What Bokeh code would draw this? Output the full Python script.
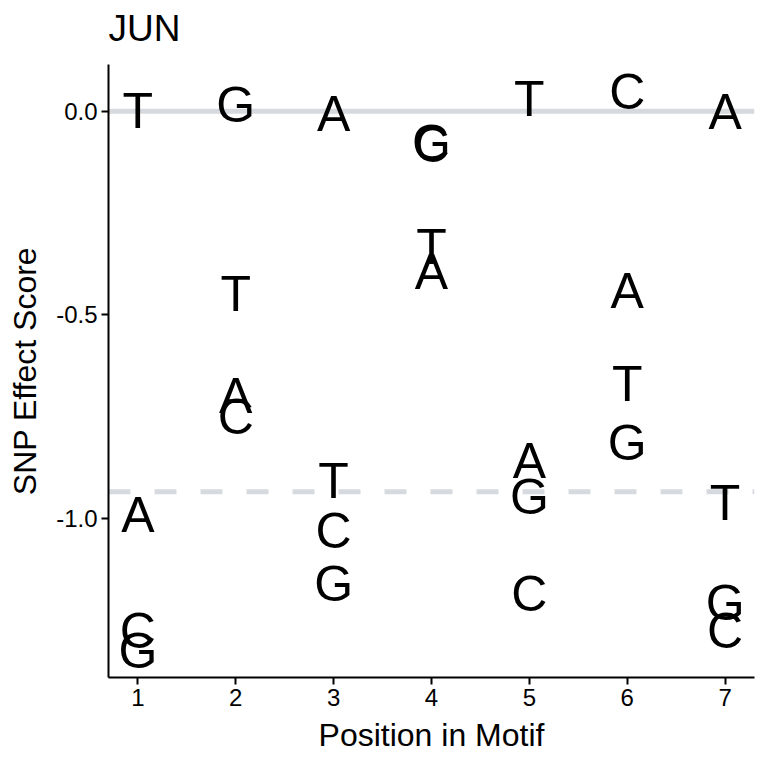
from bokeh.plotting import figure
from bokeh.models import ColumnDataSource, FixedTicker, NumeralTickFormatter, Span, Range1d
from bokeh.core.properties import value
from bokeh.embed import file_html
from bokeh.resources import INLINE

# Data
positions = [1, 1, 1, 1, 2, 2, 2, 2, 3, 3, 3, 3, 4, 4, 4, 4, 5, 5, 5, 5, 6, 6, 6, 6, 7, 7, 7, 7]
letters   = ["T", "A", "C", "G", "G", "T", "A", "C", "A", "T", "C", "G", "C", "G", "T", "A",
             "T", "A", "G", "C", "C", "A", "T", "G", "A", "T", "G", "C"]
scores    = [0.0, -0.99, -1.275, -1.326, 0.015, -0.449, -0.699, -0.75, -0.007, -0.907, -1.03, -1.16,
             -0.082, -0.078, -0.333, -0.395, 0.03, -0.858, -0.946, -1.184, 0.047, -0.44, -0.669, -0.814,
             -0.002, -0.961, -1.208, -1.277]
threshold = -0.934
x_ticks = [1, 2, 3, 4, 5, 6, 7]
y_ticks = [-1.0, -0.5, 0.0]
title_text = "JUN"

FONT = "Liberation Sans"

p = figure(frame_width=646, frame_height=613, output_backend="svg", toolbar_location=None,
           x_range=Range1d(0.7, 7.3), y_range=Range1d(-1.39, 0.115),
           min_border_left=108, min_border_top=64, min_border_bottom=76, min_border_right=6,
           title=title_text)

p.background_fill_color = "white"
p.border_fill_color = "white"
p.outline_line_color = None
p.xgrid.visible = False
p.ygrid.visible = False

p.title.text_font = FONT
p.title.text_font_size = "37px"
p.title.text_font_style = "normal"
p.title.text_color = "black"
p.title.offset = 0
p.title.standoff = 0
p.title.padding = (0, 0, 5, 16)

zero = Span(location=0, dimension="width", line_color="#D6DADE", line_width=5, level="underlay")
dash = Span(location=threshold, dimension="width", line_color="#D6DADE", line_width=5,
            line_dash="22 24", level="underlay")
p.add_layout(zero)
p.add_layout(dash)

src = ColumnDataSource(dict(x=positions, y=scores, t=letters))
p.text(x="x", y="y", text="t", source=src, text_align="center", text_baseline="middle",
       text_font=value(FONT), text_font_size="50px", text_color="black")

for ax in (p.xaxis[0], p.yaxis[0]):
    ax.axis_line_width = 2
    ax.axis_line_color = "black"
    ax.major_tick_line_width = 2
    ax.major_tick_line_color = "black"
    ax.major_tick_out = 7
    ax.major_tick_in = 0
    ax.minor_tick_line_color = None
    ax.major_label_text_font = FONT
    ax.major_label_text_font_size = "24px"
    ax.major_label_text_color = "black"
    ax.axis_label_text_font = FONT
    ax.axis_label_text_font_size = "32px"
    ax.axis_label_text_font_style = "normal"
    ax.axis_label_text_color = "black"
    ax.major_label_standoff = 4

p.xaxis.ticker = FixedTicker(ticks=x_ticks)
p.yaxis.ticker = FixedTicker(ticks=y_ticks)
p.yaxis.formatter = NumeralTickFormatter(format="0.0")
p.xaxis.axis_label = "Position in Motif"
p.yaxis.axis_label = "SNP Effect Score"
p.xaxis.axis_label_standoff = 8
p.yaxis.axis_label_standoff = 10

open("out.html", "w").write(file_html(p, INLINE))
